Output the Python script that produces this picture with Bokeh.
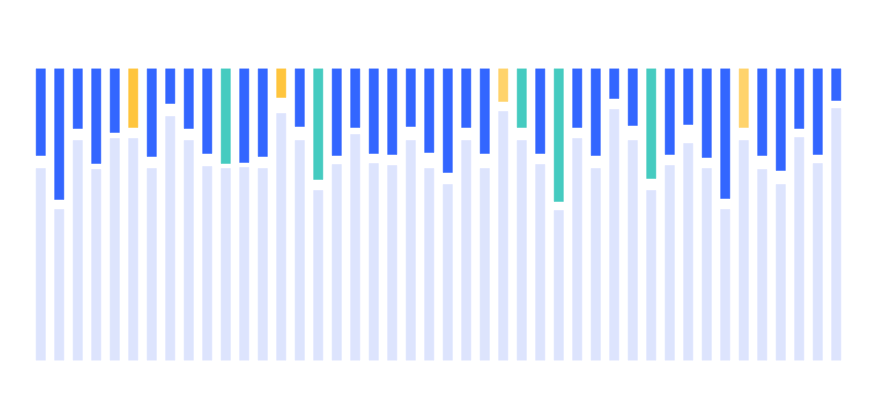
from bokeh.plotting import figure
from bokeh.models import ColumnDataSource, Range1d
from bokeh.embed import file_html
from bokeh.resources import INLINE

# Light (background) bars rising from the baseline
base_values = [192, 151, 220, 191, 222, 222, 192, 244, 220, 194,
               192, 193, 192, 247, 220, 170, 196, 226, 197, 195,
               220, 192, 176, 220, 192, 249, 220, 196, 150, 222,
               192, 251, 220, 170, 195, 217, 192, 151, 220, 191,
               176, 223, 197, 252]
# Coloured bars hanging from the top
hang_values = [87, 131, 60, 95, 64, 59, 88, 35, 60, 85,
               95, 94, 88, 29, 58, 111, 87, 59, 85, 86,
               58, 84, 104, 59, 85, 33, 59, 85, 133, 59,
               87, 30, 57, 110, 86, 56, 89, 130, 59, 87,
               102, 60, 86, 32]
# Category of each hanging bar
kinds = ["b", "b", "b", "b", "b", "g", "b", "b", "b", "b",
         "t", "b", "b", "g", "b", "t", "b", "b", "b", "b",
         "b", "b", "b", "b", "b", "s", "t", "b", "t", "b",
         "b", "b", "b", "t", "b", "b", "b", "b", "s", "b",
         "b", "b", "b", "b"]
kind_colors = {"b": "#3366FF", "t": "#45CBC0", "g": "#FFC53D", "s": "#FFD36B"}

Y_MAX = 292
n = len(base_values)
xs = [i + 0.5 for i in range(n)]

src_base = ColumnDataSource(dict(x=xs, top=base_values))
src_hang = ColumnDataSource(dict(
    x=xs,
    top=[Y_MAX] * n,
    bottom=[Y_MAX - v for v in hang_values],
    color=[kind_colors[k] for k in kinds],
))

p = figure(width=860, height=384, output_backend="svg", toolbar_location=None,
           x_range=Range1d(0, n), y_range=Range1d(0, Y_MAX),
           min_border_left=31, min_border_right=15,
           min_border_top=68, min_border_bottom=24)
p.axis.visible = False
p.grid.visible = False
p.outline_line_color = None
p.background_fill_color = "white"
p.border_fill_color = "white"

p.vbar(x="x", top="top", bottom=0, width=0.5, source=src_base,
       fill_color="#DDE4FD", line_color="#DDE4FD", line_alpha=0.6, line_width=1)
p.vbar(x="x", top="top", bottom="bottom", width=0.5, source=src_hang,
       fill_color="color", line_color="color", line_alpha=0.5, line_width=1)

open("out.html", "w").write(file_html(p, INLINE))
